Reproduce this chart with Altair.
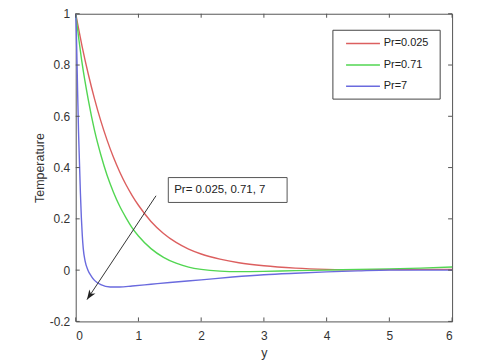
import altair as alt
import pandas as pd

# ---- data ----
series_names = ["Pr=0.025", "Pr=0.71", "Pr=7"]
series_colors = ["#dc5f5f", "#52d652", "#6a6ade"]

red_x = [0, 0.1, 0.2, 0.3, 0.4, 0.5, 0.6, 0.7, 0.8, 0.9, 1.0, 1.2, 1.4, 1.6, 1.8, 2.0, 2.3, 2.6, 3.0, 3.5, 4.0, 4.5, 5.0, 5.5, 6.0]
red_y = [1, 0.875, 0.765, 0.668, 0.582, 0.507, 0.441, 0.384, 0.334, 0.291, 0.253, 0.19, 0.143, 0.108, 0.082, 0.063, 0.043, 0.029, 0.017, 0.008, 0.003, 0.001, 0.002, 0.003, 0.003]

green_x = [0, 0.1, 0.2, 0.3, 0.4, 0.5, 0.6, 0.7, 0.8, 0.9, 1.0, 1.2, 1.4, 1.6, 1.8, 2.0, 2.3, 2.6, 3.0, 3.5, 4.0, 4.5, 5.0, 5.5, 6.0]
green_y = [1, 0.81, 0.665, 0.545, 0.45, 0.37, 0.305, 0.25, 0.205, 0.165, 0.133, 0.084, 0.05, 0.027, 0.012, 0.003, -0.004, -0.006, -0.005, -0.002, 0.0, 0.003, 0.005, 0.008, 0.012]

blue_x = [0, 0.01, 0.02, 0.03, 0.045, 0.06, 0.075, 0.09, 0.105, 0.12, 0.15, 0.195, 0.25, 0.3, 0.4, 0.55, 0.7, 0.9, 1.2, 1.5, 2.0, 2.5, 3.0, 3.5, 4.0, 4.5, 5.0, 5.5, 6.0]
blue_y = [1, 0.93, 0.82, 0.70, 0.54, 0.42, 0.30, 0.205, 0.135, 0.085, 0.035, 0.0, -0.024, -0.04, -0.057, -0.066, -0.066, -0.062, -0.055, -0.048, -0.038, -0.027, -0.018, -0.012, -0.007, -0.003, 0.0, 0.0, 0.0]

x_ticks = [0, 1, 2, 3, 4, 5, 6]
y_ticks = [-0.2, 0, 0.2, 0.4, 0.6, 0.8, 1]

annot_text = ["Pr= 0.025, 0.71, 7"]
annot_box_x = [1.476, 3.37]
annot_box_y = [0.264, 0.361]
annot_text_x = [1.57]
annot_text_y = [0.313]

arrow_x = [1.28, 0.18]
arrow_y = [0.29, -0.115]

# legend (drawn in data units of the plot)
legend_box_x = [4.1, 5.81]
legend_box_y = [0.667, 0.9356]
legend_row_y = [0.884, 0.8005, 0.717]
legend_line_x = [4.31, 4.85]
legend_label_x = 4.91

# ---- tables ----
rows = []
for name, xs, ys in zip(series_names, [red_x, green_x, blue_x], [red_y, green_y, blue_y]):
    for xv, yv in zip(xs, ys):
        rows.append({"eta": xv, "temp": yv, "series": name})
df = pd.DataFrame(rows)

box_df = pd.DataFrame({"eta": [annot_box_x[0]], "eta2": [annot_box_x[1]],
                       "temp": [annot_box_y[0]], "temp2": [annot_box_y[1]]})
text_df = pd.DataFrame({"eta": annot_text_x, "temp": annot_text_y, "label": annot_text})
arrow_df = pd.DataFrame({"eta": [arrow_x[0]], "eta2": [arrow_x[1]],
                         "temp": [arrow_y[0]], "temp2": [arrow_y[1]]})
head_df = pd.DataFrame({"eta": [arrow_x[1]], "temp": [arrow_y[1]]})
xtick_df = pd.DataFrame({"eta": x_ticks})
ytick_df = pd.DataFrame({"temp": y_ticks})

leg_box_df = pd.DataFrame({"eta": [legend_box_x[0]], "eta2": [legend_box_x[1]],
                           "temp": [legend_box_y[0]], "temp2": [legend_box_y[1]]})
leg_df = pd.DataFrame({"series": series_names, "temp": legend_row_y,
                       "eta": [legend_line_x[0]] * 3, "eta2": [legend_line_x[1]] * 3,
                       "lx": [legend_label_x] * 3})

W, H = 378, 309
FONT = "Liberation Sans"
xscale = alt.Scale(domain=[0, 6], nice=False, zero=False)
yscale = alt.Scale(domain=[-0.2, 1], nice=False, zero=False)
cscale = alt.Scale(domain=series_names, range=series_colors)

X = alt.X("eta:Q", scale=xscale,
          axis=alt.Axis(values=x_ticks, title="y", format="d", ticks=False, domain=False,
                        grid=False, labelPadding=9, titlePadding=5))
Y = alt.Y("temp:Q", scale=yscale,
          axis=alt.Axis(values=y_ticks, title="Temperature", ticks=False, domain=False,
                        grid=False, labelPadding=6, titlePadding=3,
                        labelExpr="'' + round(datum.value*10)/10"))

lines = alt.Chart(df).mark_line(strokeWidth=1.4, interpolate="monotone").encode(
    x=X, y=Y, color=alt.Color("series:N", scale=cscale, legend=None),
)

arrow = alt.Chart(arrow_df).mark_rule(color="#333", strokeWidth=1).encode(
    x="eta:Q", x2="eta2:Q", y="temp:Q", y2="temp2:Q")

head_path = "M0,0 L0.6,1.6 L0,1.15 L-0.6,1.6 Z"
head = alt.Chart(head_df).mark_point(shape=head_path, filled=True, color="#222",
                                     opacity=1, size=150, angle=213.5).encode(
    x="eta:Q", y="temp:Q")

box = alt.Chart(box_df).mark_rect(fill="white", stroke="#555", strokeWidth=1).encode(
    x="eta:Q", x2="eta2:Q", y="temp:Q", y2="temp2:Q")

text = alt.Chart(text_df).mark_text(align="left", baseline="middle", fontSize=11.5,
                                    font=FONT, color="#222").encode(
    x="eta:Q", y="temp:Q", text="label:N")

leg_box = alt.Chart(leg_box_df).mark_rect(fill="white", stroke="#444", strokeWidth=1).encode(
    x="eta:Q", x2="eta2:Q", y="temp:Q", y2="temp2:Q")
leg_lines = alt.Chart(leg_df).mark_rule(strokeWidth=1.5).encode(
    x="eta:Q", x2="eta2:Q", y="temp:Q",
    color=alt.Color("series:N", scale=cscale, legend=None))
leg_text = alt.Chart(leg_df).mark_text(align="left", baseline="middle", fontSize=11,
                                       font=FONT, color="#222").encode(
    x="lx:Q", y="temp:Q", text="series:N")

tick_color = "#555"
xt_bottom = alt.Chart(xtick_df).mark_rule(color=tick_color).encode(
    x="eta:Q", y=alt.value(H), y2=alt.value(H - 4))
xt_top = alt.Chart(xtick_df).mark_rule(color=tick_color).encode(
    x="eta:Q", y=alt.value(0), y2=alt.value(4))
yt_left = alt.Chart(ytick_df).mark_rule(color=tick_color).encode(
    y="temp:Q", x=alt.value(0), x2=alt.value(4))
yt_right = alt.Chart(ytick_df).mark_rule(color=tick_color).encode(
    y="temp:Q", x=alt.value(W), x2=alt.value(W - 4))

chart = alt.layer(lines, arrow, head, box, text, leg_box, leg_lines, leg_text,
                  xt_bottom, xt_top, yt_left, yt_right).properties(
    width=W, height=H,
    autosize=alt.AutoSizeParams(type="none"),
    padding={"left": 68, "top": 5, "right": 20, "bottom": 40},
).configure_view(stroke="#555", strokeWidth=1).configure_axis(
    labelFont=FONT, titleFont=FONT, labelColor="#333", titleColor="#333",
    labelFontSize=12, titleFontSize=12.5, titleFontWeight="normal",
)

chart.save("out.html", embed_options={"renderer": "svg", "actions": False})
